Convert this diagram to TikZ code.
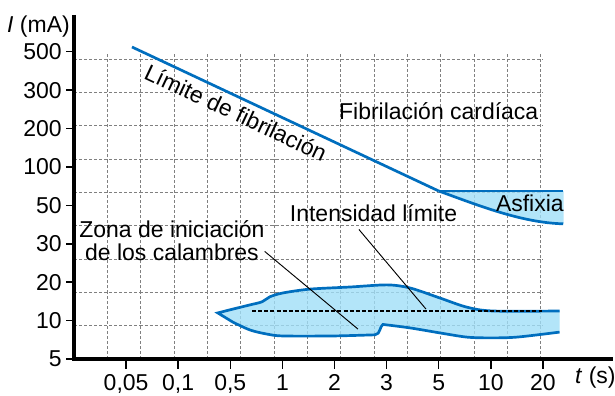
\documentclass[tikz,border=0pt]{standalone}
\usepackage{fontspec}
\setmainfont{Liberation Sans}
\usepackage{tikz}
\usepackage{xcolor}
\definecolor{lineblue}{RGB}{0,110,190}
\definecolor{zoneblue}{RGB}{160,222,247}

\begin{document}
\begin{tikzpicture}[x=1.563cm, y=1.152cm,
            every node/.style={inner sep=0pt, font=\fontsize{19.6}{19.6}\selectfont},
            dotgrid/.style={draw=black!50, line width=0.8pt, dash pattern=on 2.6pt off 1.7pt},
            blueline/.style={draw=lineblue, line width=2.3pt},
            bluezone/.style={fill=zoneblue, fill opacity=0.8},
            limit/.style={draw=black, line width=1pt, dash pattern=on 3.4pt off 1.8pt},
            leader/.style={draw=black, line width=0.8pt},
            axisline/.style={line width=2.6pt},
            axtick/.style={line width=1.2pt}]
        \useasboundingbox (-1.42,-0.9375) rectangle (10.384,9.349);
        \draw[dotgrid] (0,0) grid (9,8);

        \fill[bluezone] (7,4.375) -- (9.4,4.375) -- (9.4,3.52) .. controls (8.6,3.55) and (7.8,3.98) .. (7,4.375) -- cycle;
        \draw[blueline] (7,4.375) -- (9.39,4.375);
        \draw[blueline] (7,4.375) .. controls (7.8,3.98) and (8.6,3.55) .. (9.39,3.52);

        \fill[bluezone] plot[smooth] coordinates {(9.32,1.25) (8.04,1.25) (7.54,1.35) (7.02,1.59) (6.45,1.85) (6.01,1.93) (5.3,1.875) (4.53,1.82) (4.01,1.72) (3.76,1.62) (3.61,1.49) (3.38,1.41) (3.05,1.3) (2.76,1.2)}
            -- plot[smooth] coordinates {(3.05,0.96) (3.38,0.755) (3.7,0.65) (4.01,0.6) (4.97,0.6) (5.78,0.63)}
            .. controls (5.88,0.64) and (5.87,0.86) .. (5.93,0.9)
            -- plot[smooth] coordinates {(5.93,0.9) (6.45,0.81) (7.02,0.68) (7.54,0.57) (7.98,0.55) (8.5,0.57) (9.32,0.7)} -- cycle;
        \draw[blueline] plot[smooth] coordinates {(9.32,1.25) (8.04,1.25) (7.54,1.35) (7.02,1.59) (6.45,1.85) (6.01,1.93) (5.3,1.875) (4.53,1.82) (4.01,1.72) (3.76,1.62) (3.61,1.49) (3.38,1.41) (3.05,1.3) (2.76,1.2)}
            -- plot[smooth] coordinates {(3.05,0.96) (3.38,0.755) (3.7,0.65) (4.01,0.6) (4.97,0.6) (5.78,0.63)}
            .. controls (5.88,0.64) and (5.87,0.86) .. (5.93,0.9)
            -- plot[smooth] coordinates {(5.93,0.9) (6.45,0.81) (7.02,0.68) (7.54,0.57) (7.98,0.55) (8.5,0.57) (9.32,0.7)};
        \draw[limit] (3.42,1.25) -- (8.98,1.25);

        \draw[blueline] (1.113,8.125) -- node[sloped, pos=0.36, yshift=-13pt] (limfib) {Límite de fibrilación} (7,4.375);

        \node[anchor=base] (fibcard) at (7,6.224) {Fibrilación cardíaca};
        \node[anchor=base] (asfixia) at (8.75,3.83) {Asfixia};
        \node[anchor=base] (intens) at (5.75,3.568) {Intensidad límite};
        \node[align=center] (zona) at (1.88,3.07) {Zona de iniciación\\de los calambres};

        \coordinate (limitend) at (6.756,1.3);
        \coordinate (zonaend) at (5.45,0.78);
        \draw[leader] ([xshift=-0.44cm,yshift=-0.21cm]intens.south) -- (limitend);
        \draw[leader] ([yshift=-0.31cm]zona.east) -- (zonaend);

        \foreach \x/\lab in {1/{0,05},2/{0,1},3/{0,5},4/1,5/2,6/3,7/5,8/10,9/20} {
            \draw[axtick] (\x,0) -- (\x,-0.27);
            \node[anchor=base] (xl\x) at (\x,-0.833) {\lab};
        }
        \foreach \y/\lab in {0/5,1/10,2/20,3/30,4/50,5/100,6/200,7/300,8/500} {
            \draw[axtick] (-0.15,\y) -- (0,\y);
            \node[anchor=east] (yl\y) at (-0.23,\y) {\lab};
        }
        \draw[axisline] (0,8.96) -- (0,0) -- (10.35,0);
        \node[anchor=base east] (ylabel) at (-0.077,8.49) {\textit{I} (mA)};
        \node[anchor=base west] (xlabel) at (9.616,-0.625) {\textit{t} (s)};
    \end{tikzpicture}
\end{document}
